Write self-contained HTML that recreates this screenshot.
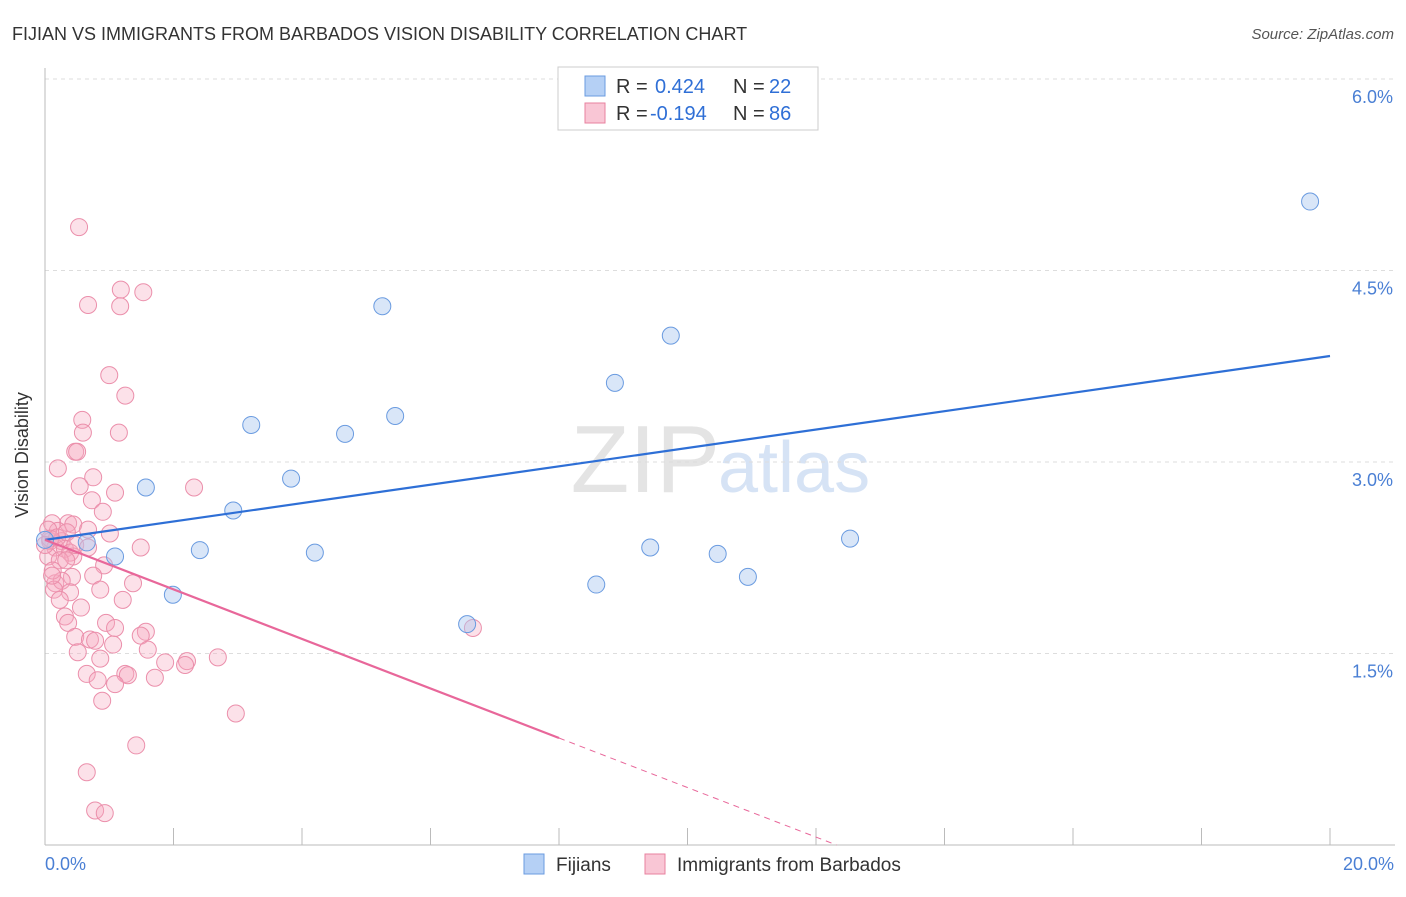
<!DOCTYPE html>
<html><head><meta charset="utf-8"><style>
body{margin:0;background:#fff;font-family:"Liberation Sans",sans-serif}
svg text{font-family:"Liberation Sans",sans-serif}
</style></head><body>
<svg width="1406" height="892" xmlns="http://www.w3.org/2000/svg">
<text x="12" y="40" font-size="18" fill="#333">FIJIAN VS IMMIGRANTS FROM BARBADOS VISION DISABILITY CORRELATION CHART</text>
<text x="1394" y="39" font-size="15" fill="#555" text-anchor="end" font-style="italic">Source: ZipAtlas.com</text>
<text x="720" y="492" font-size="96" fill="#e4e4e4" text-anchor="end" font-family="Liberation Serif">ZIP</text>
<text x="718" y="492" font-size="72" fill="#d6e3f5">atlas</text>
<g id="grid"></g><g id="axes"></g><g id="marks"></g>
<text x="28" y="455" font-size="18" fill="#333" text-anchor="middle" transform="rotate(-90 28 455)">Vision Disability</text>
<text x="45" y="870" font-size="18" fill="#4a7fd4">0.0%</text>
<text x="1394" y="870" font-size="18" fill="#4a7fd4" text-anchor="end">20.0%</text>
<g>
<rect x="558" y="67" width="260" height="63" fill="#fff" stroke="#ccc"/>
<rect x="585" y="76" width="20" height="20" fill="#b5d0f5" stroke="#6a9be0"/>
<rect x="585" y="103" width="20" height="20" fill="#f9c6d5" stroke="#e8819f"/>
<text x="616" y="93" font-size="20" fill="#333">R =</text>
<text x="655" y="93" font-size="20" fill="#2f6fd6">0.424</text>
<text x="733" y="93" font-size="20" fill="#333">N =</text>
<text x="769" y="93" font-size="20" fill="#2f6fd6">22</text>
<text x="616" y="120" font-size="20" fill="#333">R =</text>
<text x="650" y="120" font-size="20" fill="#2f6fd6">-0.194</text>
<text x="733" y="120" font-size="20" fill="#333">N =</text>
<text x="769" y="120" font-size="20" fill="#2f6fd6">86</text>
</g>
<g>
<rect x="524" y="854" width="20" height="20" fill="#b5d0f5" stroke="#6a9be0"/>
<text x="556" y="871" font-size="19" fill="#333">Fijians</text>
<rect x="645" y="854" width="20" height="20" fill="#f9c6d5" stroke="#e8819f"/>
<text x="677" y="871" font-size="19" fill="#333">Immigrants from Barbados</text>
</g>
</svg>
<script>
const yTicks=[1.5,3.0,4.5,6.0];
const yTickLabels=["1.5%","3.0%","4.5%","6.0%"];
const xTicks=[2,4,6,8,10,12,14,16,18,20];
const blueX=[0,0.65,1.09,1.57,1.99,2.41,2.93,3.21,3.83,4.20,4.67,5.25,5.45,6.57,8.58,8.87,9.42,9.74,10.47,10.94,12.53,19.69];
const blueY=[2.39,2.37,2.26,2.80,1.96,2.31,2.62,3.29,2.87,2.29,3.22,4.22,3.36,1.73,2.04,3.62,2.33,3.99,2.28,2.10,2.40,5.04];
const pinkX=[0.53,0.67,1.18,1.53,1.17,1.00,1.25,0.58,0.59,1.15,0.47,0.50,0.20,0.75,0.54,2.32,1.09,0.73,0.90,0.36,0.44,0.11,1.01,1.49,0.20,0.26,0.08,0.16,0.31,0.39,0.44,0.05,0.23,0.33,0.92,0.75,0.42,1.37,0.16,0.26,0.39,0.86,0.56,0.31,0.36,0.95,1.09,1.57,1.49,0.47,0.70,0.78,1.06,1.60,0.51,0.86,1.87,2.21,2.69,2.18,0.65,1.25,1.29,0.82,1.09,1.71,0.89,2.97,1.42,0.65,0.78,0.93,6.66,0.05,0.08,0.00,0.19,0.34,0.67,0.14,0.23,0.47,0.12,0.67,1.21,0.11];
const pinkY=[4.84,4.23,4.35,4.33,4.22,3.68,3.52,3.33,3.23,3.23,3.08,3.08,2.95,2.88,2.81,2.80,2.76,2.70,2.61,2.52,2.51,2.52,2.44,2.33,2.46,2.38,2.38,2.33,2.32,2.29,2.26,2.26,2.23,2.23,2.19,2.11,2.10,2.05,2.05,2.07,1.98,2.00,1.86,1.79,1.74,1.74,1.70,1.67,1.64,1.63,1.61,1.60,1.57,1.53,1.51,1.46,1.43,1.44,1.47,1.41,1.34,1.34,1.33,1.29,1.26,1.31,1.13,1.03,0.78,0.57,0.27,0.25,1.70,2.47,2.40,2.35,2.41,2.45,2.47,2.00,1.92,2.35,2.15,2.33,1.92,2.11];
const blueTrend=[2.39,3.83];
const pinkTrend=[2.39,-0.194];
const NS='http://www.w3.org/2000/svg';
const X=v=>45+v*64.25, Y=v=>845-v*127.67;
function mk(p,t,a){const e=document.createElementNS(NS,t);for(const k in a)e.setAttribute(k,a[k]);document.getElementById(p).appendChild(e);return e;}
yTicks.forEach((t,i)=>{
 const g=mk('grid','line',{x1:45,x2:1395,y1:Y(t),y2:Y(t),stroke:'#ddd','stroke-dasharray':'4 4'});
 
 
 const l=mk('grid','text',{x:1393,y:Y(t)+24,'text-anchor':'end','font-size':18,fill:'#4a7fd4'});
 l.textContent=yTickLabels[i];
 
 
});
const ax=mk('axes','line',{x1:45,x2:1395,y1:845,y2:845,stroke:'#bbb'});


const ay=mk('axes','line',{x1:45,x2:45,y1:68,y2:845,stroke:'#bbb'});


xTicks.forEach(t=>{const k=mk('axes','line',{x1:X(t),x2:X(t),y1:828,y2:845,stroke:'#bbb'});
 
 });
pinkX.forEach((x,i)=>{const c=mk('marks','circle',{cx:X(x),cy:Y(pinkY[i]),r:8.5,fill:'rgba(246,170,193,0.35)',stroke:'#eb8fab','stroke-width':1});
 
 });
blueX.forEach((x,i)=>{const c=mk('marks','circle',{cx:X(x),cy:Y(blueY[i]),r:8.5,fill:'rgba(170,200,240,0.45)',stroke:'#6a9be0','stroke-width':1});
 
 });
const bt=mk('marks','line',{x1:X(0),y1:Y(blueTrend[0]),x2:X(20),y2:Y(blueTrend[1]),stroke:'#2e6fd6','stroke-width':2.2});


const pe=8, pz=-pinkTrend[0]/pinkTrend[1];
const pt=mk('marks','line',{x1:X(0),y1:Y(pinkTrend[0]),x2:X(pe),y2:Y(pinkTrend[0]+pinkTrend[1]*pe),stroke:'#e8679a','stroke-width':2.2});


const pd=mk('marks','line',{x1:X(pe),y1:Y(pinkTrend[0]+pinkTrend[1]*pe),x2:X(pz),y2:Y(0),stroke:'#e8679a','stroke-width':1,'stroke-dasharray':'6 5'});


</script>
</body></html>
